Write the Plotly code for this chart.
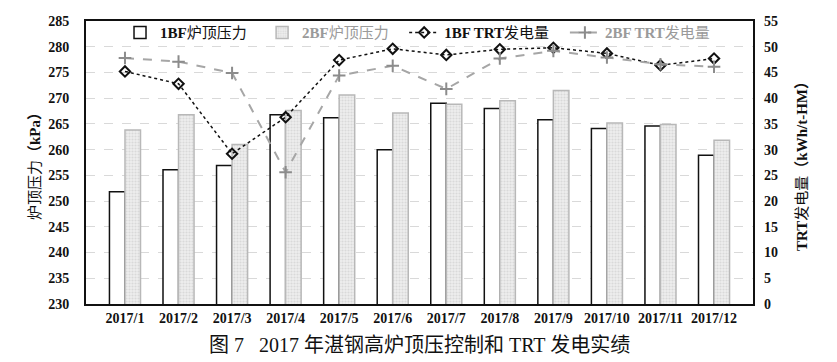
import plotly.graph_objects as go

months = ["2017/1", "2017/2", "2017/3", "2017/4", "2017/5", "2017/6",
          "2017/7", "2017/8", "2017/9", "2017/10", "2017/11", "2017/12"]
bf1_pressure = [251.8, 256.1, 256.9, 266.8, 266.2, 260.0, 269.0, 268.0, 265.8, 264.1, 264.6, 258.9]
bf2_pressure = [263.8, 266.8, 261.0, 267.6, 270.6, 267.1, 268.8, 269.5, 271.5, 265.2, 264.9, 261.8]
bf1_trt = [45.2, 42.8, 29.2, 36.3, 47.4, 49.6, 48.4, 49.5, 49.8, 48.7, 46.4, 47.7]
bf2_trt = [47.8, 47.1, 44.9, 25.6, 44.4, 46.3, 41.8, 47.7, 49.2, 47.9, 46.6, 46.1]

serif = "Liberation Serif, Times New Roman, Noto Sans CJK SC, serif"

fig = go.Figure()
fig.add_trace(go.Bar(
    x=months, y=bf1_pressure, name="<b>1BF</b>炉顶压力", legend="legend",
    marker=dict(color="white", line=dict(color="#111", width=1.5)),
    yaxis="y"))
fig.add_trace(go.Bar(
    x=months, y=bf2_pressure, legend="legend2",
    name="<span style='color:#9a9a9a'><b>2BF</b>炉顶压力</span>",
    marker=dict(color="#ececec", line=dict(color="#b8b8b8", width=1.5),
                pattern=dict(shape=".", fgcolor="#c4c4c4", bgcolor="#eeeeee",
                             size=3, solidity=0.4)),
    yaxis="y"))
fig.add_trace(go.Scatter(
    x=months, y=bf1_trt, name="<b>1BF TRT</b>发电量", mode="lines+markers",
    legend="legend3",
    line=dict(color="#111", width=1.5, dash="dot"),
    marker=dict(symbol="diamond-open", size=8, color="#111", line=dict(width=2)),
    yaxis="y2"))
fig.add_trace(go.Scatter(
    x=months, y=bf2_trt, legend="legend4",
    name="<span style='color:#9a9a9a'><b>2BF TRT</b>发电量</span>", mode="lines+markers",
    line=dict(color="#a6a6a6", width=2, dash="dash"),
    marker=dict(symbol="cross-thin", size=9, color="#8c8c8c",
                line=dict(width=2, color="#8c8c8c")),
    yaxis="y2"))

def leg(x):
    return dict(orientation="h", x=x, y=1.017, xanchor="left", yanchor="top",
                bgcolor="rgba(0,0,0,0)", font=dict(size=15, family=serif, color="#111"),
                itemwidth=30)

# page body has an 8px default margin, so the figure is sized/placed to compensate
fig.update_layout(
    width=829, height=354,
    margin=dict(l=78, r=84, t=8, b=58),
    paper_bgcolor="white", plot_bgcolor="white",
    barmode="group", bargap=0.42, bargroupgap=0,
    font=dict(family=serif, size=14, color="#111"),
    showlegend=True,
    legend=leg(0.051), legend2=leg(0.264), legend3=leg(0.477), legend4=leg(0.718),
    xaxis=dict(type="category", showline=True, linecolor="#111", linewidth=2,
               mirror=True, ticks="", automargin=False,
               tickfont=dict(size=14, family=serif, color="#111"),
               tickprefix="<b>", ticksuffix="</b>"),
    yaxis=dict(range=[230, 285], dtick=5, showline=True, linecolor="#111",
               linewidth=2, mirror=True, showgrid=True, gridcolor="#d9d9d9",
               griddash="dash", gridwidth=1, zeroline=False, automargin=False,
               ticklabelstandoff=12,
               tickprefix="<b>", ticksuffix="</b>", tickfont=dict(size=14, color="#111"),
               title=dict(text="炉顶压力<b>（kPa）</b>", font=dict(size=15, color="#111"), standoff=4)),
    yaxis2=dict(range=[0, 55], dtick=5, overlaying="y", side="right",
                showgrid=False, zeroline=False, showline=False, automargin=False,
                ticklabelstandoff=10,
                tickprefix="<b>", ticksuffix="</b>", tickfont=dict(size=14, color="#111"),
                title=dict(text="<b>TRT</b>发电量<b>（kWh/t-HM）</b>", font=dict(size=15, color="#111"), standoff=19)),
    annotations=[dict(text="图 7   2017 年湛钢高炉顶压控制和 TRT 发电实绩",
                      xref="paper", yref="paper", x=0.5, y=-0.146,
                      xanchor="center", yanchor="middle", showarrow=False,
                      font=dict(size=20, family=serif, color="#111"))],
)

fig.write_html("out.html")
